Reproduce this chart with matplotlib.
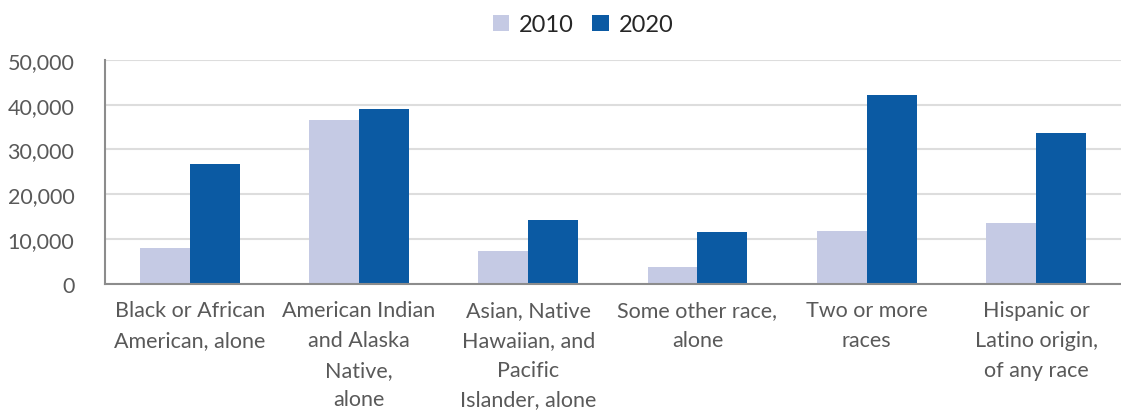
import matplotlib
matplotlib.use("Agg")
import numpy as np
import matplotlib.pyplot as plt
from matplotlib.ticker import FuncFormatter

plt.rcParams['font.family'] = ['Lato', 'DejaVu Sans']

categories = ["Black or African\nAmerican, alone",
              "American Indian\nand Alaska\nNative,\nalone",
              "Asian, Native\nHawaiian, and\nPacific\nIslander, alone",
              "Some other race,\nalone",
              "Two or more\nraces",
              "Hispanic or\nLatino origin,\nof any race"]
pop_2010 = [8000, 36600, 7400, 3800, 11800, 13600]
pop_2020 = [26800, 39000, 14300, 11600, 42200, 33700]

c2010 = "#C5CAE4"
c2020 = "#0B5AA3"

fig = plt.figure(figsize=(11.21, 4.14), dpi=100)
ax = fig.add_axes([0.0937, 0.312, 0.906, 0.541])

x = np.arange(len(categories))
w = 0.295
ax.bar(x - w/2, pop_2010, w, color=c2010, label="2010", zorder=2)
ax.bar(x + w/2, pop_2020, w, color=c2020, label="2020", zorder=2)

ax.set_xlim(-0.5, len(categories) - 0.5)
ax.set_ylim(0, 50000)
ax.set_yticks(range(0, 50001, 10000))
ax.yaxis.set_major_formatter(FuncFormatter(lambda v, p: "{:,.0f}".format(v)))
ax.grid(axis='y', color="#DDDDDD", linewidth=1.5, zorder=0)
ax.set_axisbelow(True)

for s in ['top', 'right']:
    ax.spines[s].set_visible(False)
ax.spines['left'].set_color("#8C8C8C")
ax.spines['bottom'].set_color("#8C8C8C")
ax.spines['left'].set_linewidth(1.5)
ax.spines['bottom'].set_linewidth(1.5)

ax.set_xticks(x)
ax.set_xticklabels(categories, fontsize=15.5, color="#595959", linespacing=1.6)
ax.tick_params(axis='x', length=0, pad=12)
ax.tick_params(axis='y', length=0, pad=22, labelsize=15.5, labelcolor="#595959")

fig.legend(loc='upper center', bbox_to_anchor=(0.52, 1.015), ncol=2, frameon=False,
           fontsize=17, handlelength=0.7, handleheight=0.7, handletextpad=0.4,
           columnspacing=0.8, labelcolor="#262626")

plt.savefig("out.png", dpi=100)
